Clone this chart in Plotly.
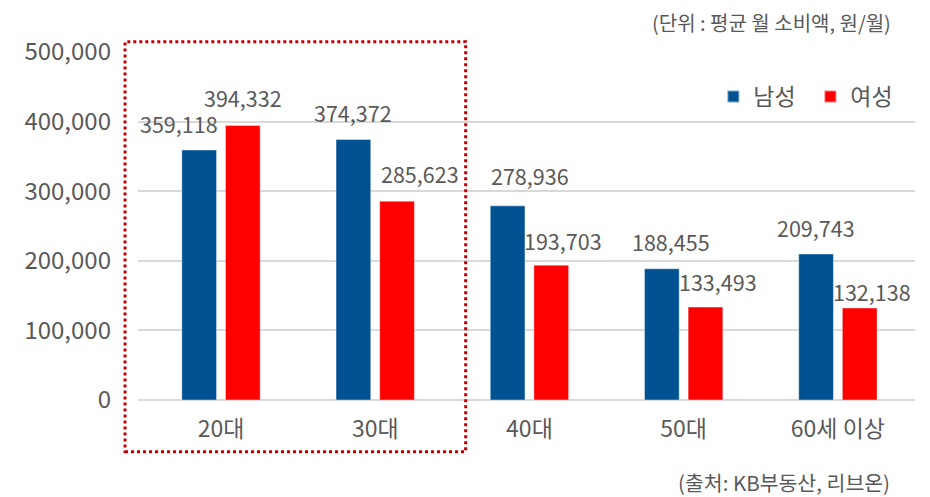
import plotly.graph_objects as go

categories = ["20대", "30대", "40대", "50대", "60세 이상"]
male = [359118, 374372, 278936, 188455, 209743]
female = [394332, 285623, 193703, 133493, 132138]
series_names = ["남성", "여성"]
y_ticks = [0, 100000, 200000, 300000, 400000, 500000]

# style: label offsets in px (relative to bar centre / top)
male_dx = [-20, 0, 23, 9, 0]
male_dy = [27, 27, 30, 27, 27]
female_dx = [0, 23, 12, 12, 12]
female_dy = [28, 28, 25, 26, 17]
bar_off = 22

FONT = "Noto Sans CJK KR"
GRAY = "#595959"
BLUE = "#005292"
RED = "#FF0000"

fig = go.Figure()
fig.add_trace(go.Bar(x=categories, y=male, name=series_names[0],
                     marker=dict(color=BLUE, line=dict(color="rgba(255,255,255,0.5)", width=0.8))))
fig.add_trace(go.Bar(x=categories, y=female, name=series_names[1],
                     marker=dict(color=RED, line=dict(color="rgba(255,255,255,0.5)", width=0.8))))

ann = []
for vals, dxs, dys, sgn in [(male, male_dx, male_dy, -1), (female, female_dx, female_dy, 1)]:
    for c, v, dx, dy in zip(categories, vals, dxs, dys):
        ann.append(dict(x=c, y=v, xref="x", yref="y", text=f"{v:,}", showarrow=False,
                        xanchor="center", yanchor="middle", xshift=sgn * bar_off + dx, yshift=dy,
                        font=dict(family=FONT, size=21.5, color=GRAY)))

ann.append(dict(xref="paper", yref="paper", x=0.9717, y=1.0862, xanchor="right", yanchor="middle",
                text="(단위 : 평균 월 소비액, 원/월)", showarrow=False,
                font=dict(family=FONT, size=20, color=GRAY)))
ann.append(dict(xref="paper", yref="paper", x=0.9704, y=-0.2356, xanchor="right", yanchor="middle",
                text="(출처: KB부동산, 리브온)", showarrow=False,
                font=dict(family=FONT, size=20.5, color=GRAY)))

fig.update_layout(
    width=922, height=489,
    margin=dict(l=130, r=15, t=44, b=97, autoexpand=False),
    paper_bgcolor="white", plot_bgcolor="white",
    barmode="group", bargap=0.434, bargroupgap=0.205,
    font=dict(family=FONT, color=GRAY),
    annotations=ann,
    legend=dict(orientation="h", x=0.7405, y=0.934, xanchor="left", yanchor="top",
                font=dict(family=FONT, size=23, color=GRAY), bgcolor="rgba(0,0,0,0)",
                entrywidth=52, entrywidthmode="pixels", itemsizing="constant"),
    shapes=[dict(type="rect", xref="paper", yref="paper",
                 x0=-0.0167, x1=0.4217, y0=-0.1486, y1=1.0296,
                 line=dict(color="#C00000", width=3, dash="dot"), fillcolor="rgba(0,0,0,0)")],
)
fig.update_yaxes(range=[0, 500000], tickvals=y_ticks, tickformat=",", automargin=False,
                 showgrid=True, gridcolor="#D9D9D9", gridwidth=1.5,
                 zeroline=True, zerolinecolor="#D9D9D9", zerolinewidth=1.5,
                 showline=False, ticks="", ticklabelstandoff=26,
                 tickfont=dict(family=FONT, size=24, color=GRAY))
fig.update_xaxes(showline=False, ticks="", ticklabelstandoff=13, automargin=False,
                 tickfont=dict(family=FONT, size=23, color=GRAY))

fig.write_html("out.html")
